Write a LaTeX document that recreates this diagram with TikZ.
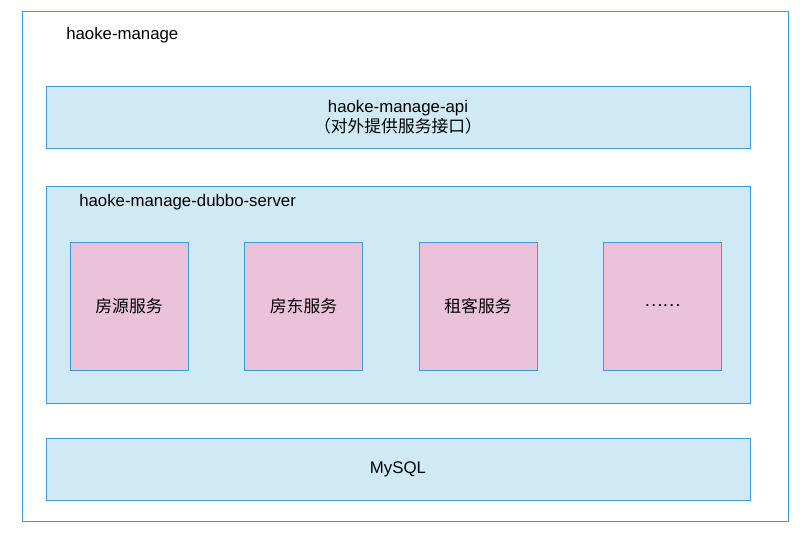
\documentclass[tikz,border=0pt]{standalone}
\usepackage{fontspec}
\setmainfont{Liberation Sans}
\newfontfamily\cjk{Noto Sans CJK SC}
\usetikzlibrary{positioning}
\definecolor{boxblue}{RGB}{59,155,224}
\definecolor{layerfill}{RGB}{207,233,245}
\definecolor{svcfill}{RGB}{234,195,219}

\begin{document}
\begin{tikzpicture}[x=0.75pt, y=-0.75pt, font=\fontsize{12.6}{15}\selectfont,
  frame/.style={draw=boxblue, line width=0.75pt, inner sep=0pt},
  layer/.style={frame, fill=layerfill, minimum width=704*0.75pt},
  svc/.style={frame, fill=svcfill, minimum width=118*0.75pt, minimum height=128*0.75pt},
  title/.style={anchor=west, inner sep=0pt}]
  \useasboundingbox (0,0) rectangle (800,533);
  % Outer frame
  \node[frame, minimum width=766*0.75pt, minimum height=510*0.75pt] (manage) at (405,266) {};
  \node[title] (managelabel) at (66,35) {haoke-manage};
  % Api layer
  \node[layer, minimum height=62*0.75pt, align=center] (api) at (398,117)
    {haoke-manage-api\\{\cjk （对外提供服务接口）}};
  % Dubbo server
  \node[layer, minimum height=217*0.75pt] (dubbo) at (398,294.5) {};
  \node[title] (dubbolabel) at (79,202) {haoke-manage-dubbo-server};
  \foreach \name/\x/\txt in {fangyuan/129/房源服务, fangdong/303.5/房东服务, zuke/478/租客服务, more/662.5/……} {
    \node[svc] (\name) at (\x,306) {\cjk \txt};
  }
  % Database
  \node[layer, minimum height=62*0.75pt] (mysql) at (398,469) {MySQL};
\end{tikzpicture}
\end{document}
